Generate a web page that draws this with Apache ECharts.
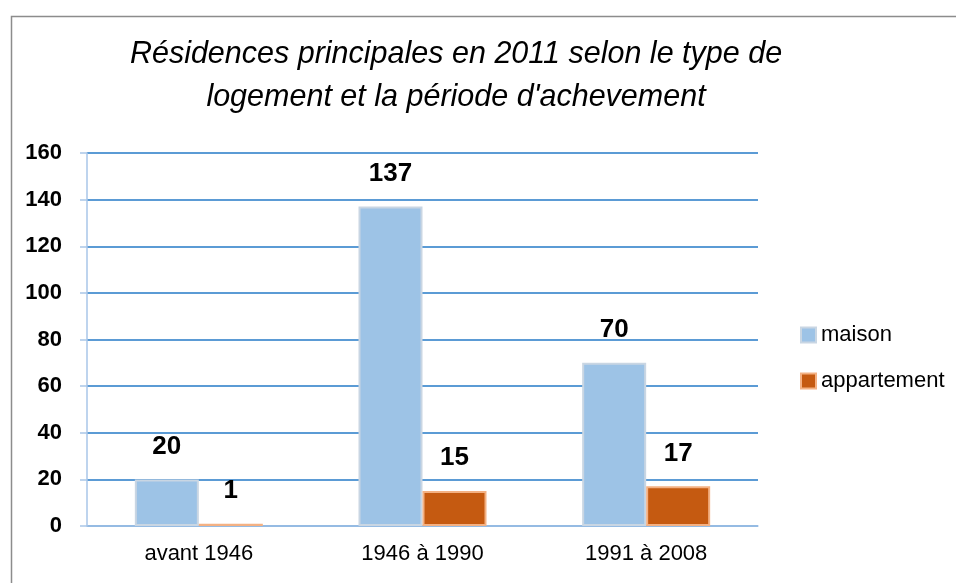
<!DOCTYPE html>
<html>
<head>
<meta charset="utf-8">
<script src="https://cdn.jsdelivr.net/npm/echarts@6/dist/echarts.min.js"></script>
<style>
  html, body { margin: 0; padding: 0; background: #fff; }
  #chart { width: 956px; height: 583px; }
</style>
</head>
<body>
<div id="chart"></div>
<script>
const categories = ["avant 1946", "1946 à 1990", "1991 à 2008"];
const maison = [20, 137, 70];
const appartement = [1, 15, 17];
const y_ticks = { min: 0, max: 160, interval: 20 };

const sans = "'Liberation Sans', Arial, sans-serif";

const label = {
    show: true, position: 'top', distance: 20,
    color: '#000', fontFamily: sans, fontWeight: 'bold', fontSize: 26
};

const chart = echarts.init(document.getElementById('chart'), null, { renderer: 'canvas' });

chart.setOption({
    animation: false,
    graphic: [{
        type: 'rect', left: 9, top: 14,
        shape: { width: 1100, height: 700 },
        style: { fill: 'none', stroke: '#8c8c8c', lineWidth: 1.5 }
    }],
    title: {
        text: "Résidences principales en 2011 selon le type de\nlogement et la période d'achevement",
        left: 451, top: 28, textAlign: 'center',
        textStyle: {
            fontFamily: sans, fontStyle: 'italic',
            fontWeight: 'normal', fontSize: 30.5, lineHeight: 43, color: '#000'
        }
    },
    legend: {
        orient: 'vertical', left: 795, top: 319,
        icon: 'rect', itemWidth: 15, itemHeight: 15, itemGap: 24,
        textStyle: { fontFamily: sans, fontSize: 22, color: '#000' },
        data: ['maison', 'appartement']
    },
    grid: { left: 87, right: 198, top: 153, bottom: 57 },
    xAxis: {
        type: 'category', data: categories,
        axisLine: { lineStyle: { color: '#a9c6e8', width: 1.5 } },
        axisTick: { length: 9, lineStyle: { color: '#a9c6e8', width: 1.5 } },
        axisLabel: { margin: 17, fontFamily: sans, fontSize: 22, color: '#000' }
    },
    yAxis: {
        type: 'value', min: y_ticks.min, max: y_ticks.max, interval: y_ticks.interval,
        axisLine: { show: true, lineStyle: { color: '#a9c6e8', width: 1.5 } },
        axisTick: { show: true, length: 7, lineStyle: { color: '#a9c6e8', width: 1.5 } },
        axisLabel: { margin: 25, fontFamily: sans, fontWeight: 'bold', fontSize: 22, color: '#000' },
        splitLine: { lineStyle: { color: '#5b9bd5', width: 2 } }
    },
    series: [
        {
            type: 'bar', name: 'maison', data: maison,
            barWidth: 64, barGap: '0%',
            itemStyle: { color: '#9dc3e6', borderColor: '#c9d6e3', borderWidth: 2 },
            label
        },
        {
            type: 'bar', name: 'appartement', data: appartement,
            barWidth: 64,
            itemStyle: { color: '#c55a11', borderColor: '#f4b183', borderWidth: 2 },
            label
        }
    ]
});
</script>
</body>
</html>
